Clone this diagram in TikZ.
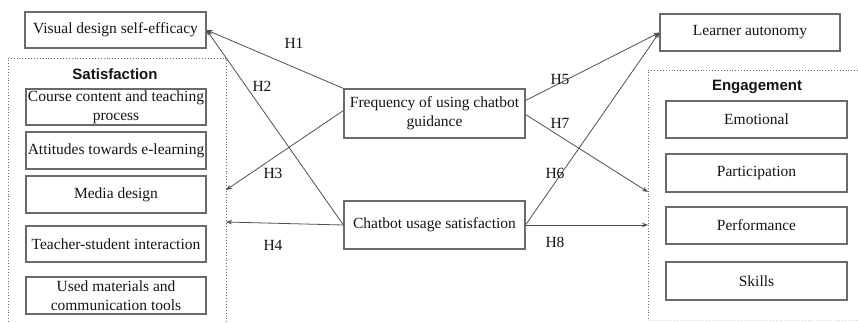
\documentclass[tikz,border=0pt]{standalone}
\usepackage{fontspec}
\setmainfont{Liberation Serif}
\newfontfamily\titlefont{Liberation Sans}
\usetikzlibrary{arrows.meta,calc}
\definecolor{boxline}{HTML}{6A6A6A}
\definecolor{arrline}{HTML}{505050}
\definecolor{txt}{HTML}{141414}
\begin{document}
\begin{tikzpicture}[x=1pt,y=-1pt,
  varbox/.style={draw=boxline,line width=1.1pt,rectangle,inner sep=0pt,minimum width=#1,align=center,text=txt,font=\fontsize{15.5}{19}\selectfont},
  varbox/.default=180pt,
  grp/.style={draw=boxline,dotted,line width=0.9pt},
  ttl/.style={font=\titlefont\bfseries\fontsize{15}{18}\selectfont,text=txt},
  hyp/.style={draw=arrline,line width=0.8pt,-{Stealth[length=6pt,width=4.5pt]}},
  hlab/.style={font=\fontsize{15.5}{18}\selectfont,text=txt,inner sep=0pt}]
\useasboundingbox (0,0) rectangle (858,322);
% groups
\draw[grp] (8,322) -- (8,58) -- (226,58) -- (226,322);
\draw[grp] (858,70) -- (648,70) -- (648,320);
\draw[grp,draw=boxline!30] (648,320) -- (858,320);
\node[ttl] (sattitle) at (115,74) {Satisfaction};
\node[ttl] (engtitle) at (757,87) {Engagement};
% left boxes
\node[varbox=181pt,minimum height=36pt] (vis) at (115.5,30) {Visual design self-efficacy};
\node[varbox=180pt,minimum height=36pt] (course) at (116,107) {Course content and teaching\\process};
\node[varbox=180pt,minimum height=37pt] (att) at (116,150.5) {Attitudes towards e-learning};
\node[varbox=180pt,minimum height=37pt] (media) at (116,194.5) {Media design};
\node[varbox=180pt,minimum height=36pt] (teach) at (116,244) {Teacher-student interaction};
\node[varbox=180pt,minimum height=37pt] (used) at (116,295.5) {Used materials and\\communication tools};
% center
\node[varbox=181pt,minimum height=49pt] (freq) at (434.5,113.5) {Frequency of using chatbot\\guidance};
\node[varbox=181pt,minimum height=48pt] (cus) at (434.5,225) {Chatbot usage satisfaction};
% right
\node[varbox=180pt,minimum height=37pt] (auto) at (750,32.5) {Learner autonomy};
\node[varbox=181pt,minimum height=37pt] (emo) at (756.5,119.5) {Emotional};
\node[varbox=181pt,minimum height=38pt] (part) at (756.5,173) {Participation};
\node[varbox=181pt,minimum height=37pt] (perf) at (756.5,225.5) {Performance};
\node[varbox=181pt,minimum height=38pt] (skill) at (756.5,281) {Skills};
% connector ends
\coordinate (s3) at (226,190);
\coordinate (s4) at (226,222);
\coordinate (e7) at (648,192);
\coordinate (e8) at (648,225);
% hypotheses
\draw[hyp] (freq.north west) -- (vis.east);
\draw[hyp] (cus.west) -- (vis.east);
\draw[hyp] ($(freq.west)+(0,-3)$) -- (s3);
\draw[hyp] (cus.west) -- (s4);
\draw[hyp] ($(freq.east)+(0,-13)$) -- (auto.west);
\draw[hyp] (cus.east) -- (auto.west);
\draw[hyp] ($(freq.east)+(0,1)$) -- (e7);
\draw[hyp] (cus.east) -- (e8);
% labels
\node[hlab] (h1) at (294,43) {H1};
\node[hlab] (h2) at (262,86) {H2};
\node[hlab] (h3) at (273,173) {H3};
\node[hlab] (h4) at (273,245) {H4};
\node[hlab] (h5) at (560,79) {H5};
\node[hlab] (h6) at (555,173) {H6};
\node[hlab] (h7) at (560,123) {H7};
\node[hlab] (h8) at (555,242) {H8};
\end{tikzpicture}
\end{document}
